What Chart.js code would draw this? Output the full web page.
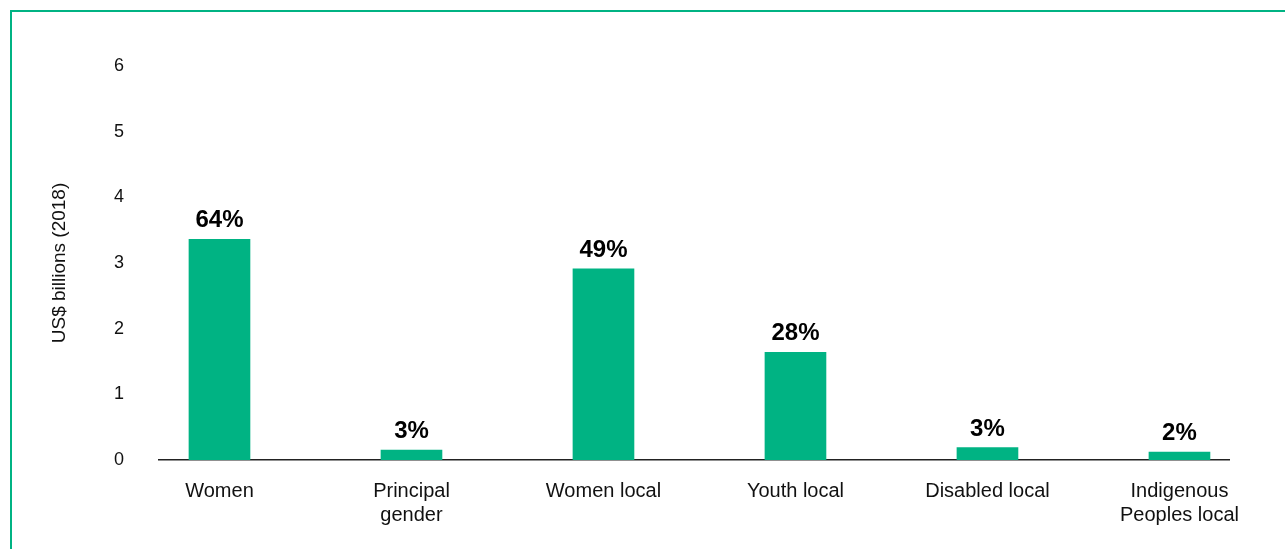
<!DOCTYPE html>
<html>
<head>
<meta charset="utf-8">
<script src="https://cdn.jsdelivr.net/npm/chart.js@4/dist/chart.umd.min.js"></script>
<style>
  html, body { margin: 0; padding: 0; background: #fff; overflow: hidden; }
  #frame { position: absolute; left: 10px; top: 10px; width: 1300px; height: 600px;
           border-top: 2px solid #00b383; border-left: 2px solid #00b383; }
  #wrap { position: absolute; left: 0; top: 0; width: 1285px; height: 549px; }
</style>
</head>
<body>
<div id="frame"></div>
<div id="wrap"><canvas id="fundingChart"></canvas></div>
<script>
// Categories on the x axis (arrays give two-line labels)
const categories = [
  ["Women"],
  ["Principal", "gender"],
  ["Women local"],
  ["Youth local"],
  ["Disabled local"],
  ["Indigenous", "Peoples local"]
];
// Funding values in US$ billions (2018)
const fundingValues = [3.36, 0.15, 2.91, 1.64, 0.19, 0.12];
// Share labels written above each bar
const shareLabels = ["64%", "3%", "49%", "28%", "3%", "2%"];
// Y axis range and step
const yMin = 0;
const yMax = 6;
const yStep = 1;

const green = "#00b383";
const fontFamily = "'Liberation Sans', Arial, Helvetica, sans-serif";

// Draws the bold percentages above the bars
const shareLabelPlugin = {
  id: "shareLabels",
  afterDatasetsDraw(chart) {
    const ctx = chart.ctx;
    const meta = chart.getDatasetMeta(0);
    ctx.save();
    ctx.font = "bold 24px " + fontFamily;
    ctx.fillStyle = "#000";
    ctx.textAlign = "center";
    ctx.textBaseline = "alphabetic";
    meta.data.forEach((bar, i) => {
      ctx.fillText(shareLabels[i], bar.x, bar.y - 12);
    });
    ctx.restore();
  }
};

const ctx = document.getElementById("fundingChart").getContext("2d");
new Chart(ctx, {
  type: "bar",
  data: {
    datasets: [{
      data: fundingValues.map((v, i) => ({ x: i, y: v })),
      backgroundColor: green,
      borderWidth: 0,
      barThickness: 61
    }]
  },
  options: {
    responsive: true,
    maintainAspectRatio: false,
    animation: false,
    layout: { padding: { top: 66, right: 56, left: 0, bottom: 0 } },
    plugins: {
      legend: { display: false },
      tooltip: { enabled: false }
    },
    scales: {
      x: {
        type: "linear",
        offset: false,
        min: -0.315,
        max: categories.length - 1 + 0.258,
        grid: { display: false, drawTicks: false },
        border: { display: true, color: "#222", width: 1.5 },
        afterBuildTicks: scale => { scale.ticks = categories.map((c, i) => ({ value: i })); },
        afterFit: scale => { scale.height = 549 - 460; },
        ticks: {
          autoSkip: false,
          maxRotation: 0,
          padding: 19,
          color: "#111",
          font: { family: fontFamily, size: 20, lineHeight: 1.2 },
          callback: value => categories[value]
        }
      },
      y: {
        min: yMin,
        max: yMax,
        grid: { display: false, drawTicks: false },
        border: { display: false },
        afterFit: scale => { scale.width = 159; },
        ticks: {
          stepSize: yStep,
          padding: 35,
          color: "#111",
          font: { family: fontFamily, size: 18 }
        },
        title: {
          display: true,
          text: "US$ billions (2018)",
          color: "#111",
          font: { family: fontFamily, size: 19 },
          padding: { top: 48, bottom: 0 }
        }
      }
    }
  },
  plugins: [shareLabelPlugin]
});
</script>
</body>
</html>
